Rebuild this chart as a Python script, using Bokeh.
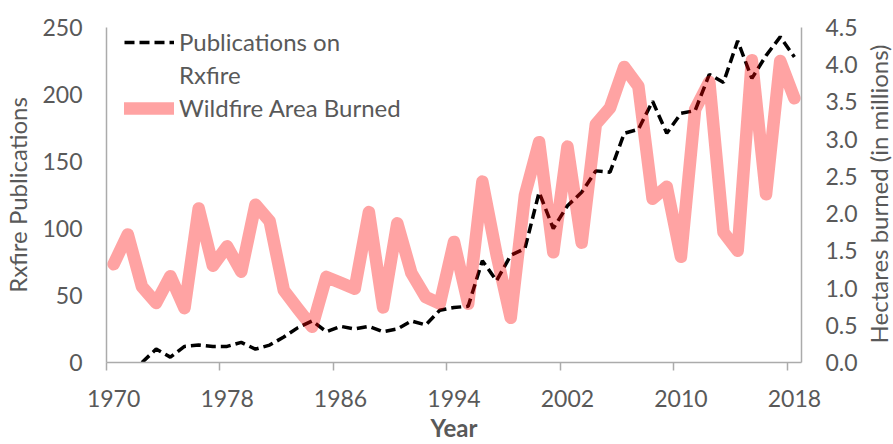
import math
import numpy as np
from bokeh.plotting import figure
from bokeh.layouts import row
from bokeh.models import (Range1d, LinearAxis, FixedTicker, NumeralTickFormatter,
                          Legend, LegendItem, Label)
from bokeh.embed import file_html
from bokeh.resources import INLINE

nan = float("nan")

# ---- data ----
years = list(range(1970, 2019))
publications = [nan, nan, 0, 10, 4, 12, 13, 12, 12, 15,
                10, 13, 19, 26, 31, 23, 27, 25, 27, 23,
                25, 31, 28, 39, 41, 42, 76, 61, 80, 85,
                127, 100, 117, 127, 143, 142, 171, 174, 195, 171,
                186, 188, 215, 209, 240, 212, 229, 243, 228]
area_burned = [1.32, 1.72, 1.02, 0.80, 1.16, 0.73, 2.07, 1.30, 1.56, 1.22,
               2.12, 1.90, 0.97, 0.72, 0.48, 1.15, 1.07, 0.99, 2.02, 0.74,
               1.87, 1.20, 0.88, 0.79, 1.62, 0.79, 2.43, 1.45, 0.60, 2.25,
               2.96, 1.48, 2.90, 1.61, 3.20, 3.42, 3.97, 3.71, 2.20, 2.36,
               1.42, 3.40, 3.77, 1.75, 1.50, 4.06, 2.26, 4.05, 3.55]
tick_years = [1970, 1978, 1986, 1994, 2002, 2010, 2018]
left_ticks = [0, 50, 100, 150, 200, 250]
right_ticks = [0, 0.5, 1.0, 1.5, 2.0, 2.5, 3.0, 3.5, 4.0, 4.5]

# categories are centred between year boundaries
x_centres = [y + 0.5 for y in years]

FONT = "Lato"
GREY = "#595959"
AXIS_GREY = "#ABABAB"
TICK_SIZE = "23px"
TEXT_SIZE = "24px"
H = 444
FRAME_H = H - 27 - 82
SIDE_W = 30

p = figure(width=863, height=H, output_backend="svg", toolbar_location=None,
           x_range=Range1d(1970, 2019), y_range=Range1d(0, 250),
           min_border_left=105, min_border_right=62, min_border_top=27,
           min_border_bottom=82)
p.extra_y_ranges = {"right": Range1d(0, 4.5)}
p.outline_line_color = None
p.grid.visible = False
p.background_fill_color = "white"
p.border_fill_color = "white"

r_pub = p.line(x_centres, publications, line_color="black", line_width=3.5,
               line_dash="10 5")
r_blank = p.line(x=[], y=[], line_alpha=0)
r_fire = p.line(x_centres, area_burned, y_range_name="right",
                line_color="#FF0000", line_alpha=0.36, line_width=12.5,
                line_join="round", line_cap="round")

# bottom axis: tick marks at category boundaries
xa = p.xaxis[0]
xa.ticker = FixedTicker(ticks=tick_years)
xa.axis_line_color = AXIS_GREY
xa.axis_line_width = 1.5
xa.major_tick_line_color = AXIS_GREY
xa.major_tick_line_width = 1.5
xa.major_tick_in = 0
xa.major_tick_out = 8
xa.minor_tick_line_color = None
xa.major_label_text_font_size = "1px"
xa.major_label_text_alpha = 0
xa.major_label_standoff = 0

# second bottom axis: labels centred under categories
xl = LinearAxis(ticker=FixedTicker(ticks=[t + 0.5 for t in tick_years]),
                major_label_overrides={t + 0.5: str(t) for t in tick_years},
                axis_line_color=None, major_tick_line_color=None,
                minor_tick_line_color=None, major_tick_out=0, major_tick_in=0,
                major_label_standoff=19,
                major_label_text_font=FONT, major_label_text_font_size=TICK_SIZE,
                major_label_text_color=GREY,
                axis_label="Year", axis_label_text_font=FONT,
                axis_label_text_font_size=TEXT_SIZE, axis_label_text_font_style="bold",
                axis_label_text_color=GREY, axis_label_standoff=3)
p.add_layout(xl, "below")

# left axis
ya = p.yaxis[0]
ya.ticker = FixedTicker(ticks=left_ticks)
ya.axis_line_color = AXIS_GREY
ya.axis_line_width = 1.5
ya.major_tick_line_color = None
ya.minor_tick_line_color = None
ya.major_tick_out = 0
ya.major_tick_in = 0
ya.major_label_standoff = 24
ya.major_label_text_font = FONT
ya.major_label_text_font_size = TICK_SIZE
ya.major_label_text_color = GREY
ya.axis_label = "Rxfire Publications"
ya.axis_label_text_font = FONT
ya.axis_label_text_font_size = TEXT_SIZE
ya.axis_label_text_font_style = "normal"
ya.axis_label_text_color = GREY
ya.axis_label_standoff = 7

# right axis
yr = LinearAxis(y_range_name="right", ticker=FixedTicker(ticks=right_ticks),
                formatter=NumeralTickFormatter(format="0.0"),
                axis_line_color=AXIS_GREY, axis_line_width=1.5,
                major_tick_line_color=None, minor_tick_line_color=None,
                major_tick_out=0, major_tick_in=0, major_label_standoff=24,
                major_label_text_font=FONT, major_label_text_font_size=TICK_SIZE,
                major_label_text_color=GREY)
p.add_layout(yr, "right")

legend = Legend(items=[
    LegendItem(label="Publications on", renderers=[r_pub]),
    LegendItem(label="Rxfire", renderers=[r_blank]),
    LegendItem(label="Wildfire Area Burned", renderers=[r_fire]),
], location=(18, 240), padding=0, margin=0, spacing=4,
    glyph_width=50, glyph_height=20, label_standoff=5,
    label_text_font=FONT, label_text_font_size=TEXT_SIZE, label_text_color=GREY,
    background_fill_alpha=0, border_line_color=None)
p.add_layout(legend, "center")

# narrow strip on the right holding the right-hand axis title (reads bottom-to-top);
# its frame is aligned with the main plot's frame by the row layout
side = figure(width=SIDE_W, height=H, output_backend="svg", toolbar_location=None,
              x_range=Range1d(0, 1), y_range=Range1d(0, 1),
              x_axis_type=None, y_axis_type=None, min_border=0)
side.outline_line_color = None
side.grid.visible = False
side.background_fill_color = "white"
side.border_fill_color = "white"
right_title = Label(x=SIDE_W / 2, y=FRAME_H / 2 + 1, x_units="screen", y_units="screen",
                    text="Hectares burned (in millions)", angle=90,
                    angle_units="deg", text_align="center",
                    text_baseline="middle", text_font=FONT,
                    text_font_size=TEXT_SIZE, text_color=GREY)
side.add_layout(right_title)

layout = row(p, side)
open("out.html", "w").write(file_html(layout, INLINE))
